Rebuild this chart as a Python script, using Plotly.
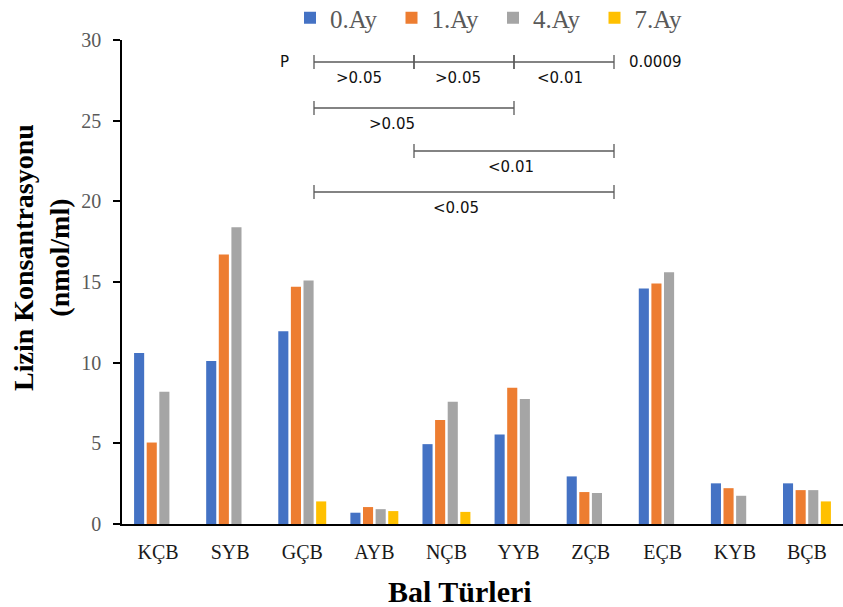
import plotly.graph_objects as go

# Honey types on the x axis
categories = ["KÇB", "SYB", "GÇB", "AYB", "NÇB", "YYB", "ZÇB", "EÇB", "KYB", "BÇB"]

# Lysine concentration (nmol/ml) per storage month
ay0 = [10.6, 10.1, 11.95, 0.7, 4.95, 5.55, 2.95, 14.6, 2.52, 2.52]
ay1 = [5.05, 16.7, 14.7, 1.05, 6.45, 8.45, 1.98, 14.9, 2.22, 2.1]
ay4 = [8.2, 18.4, 15.1, 0.92, 7.58, 7.75, 1.92, 15.6, 1.75, 2.1]
ay7 = [None, None, 1.4, 0.8, 0.75, None, None, None, None, 1.4]

series_names = ["0.Ay", "1.Ay", "4.Ay", "7.Ay"]
series_colors = ["#4472C4", "#ED7D31", "#A5A5A5", "#FFC000"]

# Pairwise comparisons between months: (from index, to index, p label)
comparisons = [
    (0, 1, ">0.05"),
    (1, 2, ">0.05"),
    (2, 3, "<0.01"),
    (0, 2, ">0.05"),
    (1, 3, "<0.01"),
    (0, 3, "<0.05"),
]
overall_p = "0.0009"

W, H = 843, 607
ML, MR, MT, MB = 122, 0, 40, 83
PW, PH = W - ML - MR, H - MT - MB


def px(x):
    return (x - ML) / PW


def py(y):
    return (H - MB - y) / PH


fig = go.Figure()
for name, vals, col in zip(series_names, [ay0, ay1, ay4, ay7], series_colors):
    fig.add_trace(go.Bar(x=categories, y=vals, name=name, marker_color=col,
                         marker_line_width=0))

serif = "Liberation Serif, Times New Roman, serif"
sans = "DejaVu Sans, Verdana, sans-serif"

# Bracket layout: each month sits under its legend entry
month_x = [314 + 100 * i for i in range(4)]
row_of = [0, 0, 0, 1, 2, 3]
row_y = [62, 108, 151, 192]
label_shift = [-5, -6, -4, -22, -3, -8]

shapes = []
annotations = []
line_col = "#5a5a5a"
for (a, b, lab), r, sh in zip(comparisons, row_of, label_shift):
    x0, x1, y = month_x[a], month_x[b], row_y[r]
    shapes.append(dict(type="line", xref="paper", yref="paper",
                       x0=px(x0), x1=px(x1), y0=py(y), y1=py(y),
                       line=dict(color=line_col, width=1.3)))
    for xe in (x0, x1):
        shapes.append(dict(type="line", xref="paper", yref="paper",
                           x0=px(xe), x1=px(xe), y0=py(y - 7), y1=py(y + 7),
                           line=dict(color=line_col, width=1.3)))
    annotations.append(dict(text=lab, xref="paper", yref="paper",
                            x=px((x0 + x1) / 2 + sh), y=py(y + 16),
                            xanchor="center", yanchor="middle", showarrow=False,
                            font=dict(family=sans, size=15, color="#111111")))

annotations.append(dict(text="P", xref="paper", yref="paper", x=px(284), y=py(62),
                        xanchor="center", yanchor="middle", showarrow=False,
                        font=dict(family=sans, size=15, color="#111111")))
annotations.append(dict(text=overall_p, xref="paper", yref="paper", x=px(655), y=py(62),
                        xanchor="center", yanchor="middle", showarrow=False,
                        font=dict(family=sans, size=15, color="#111111")))

# Axis titles
annotations.append(dict(text="<b>Lizin Konsantrasyonu<br>(nmol/ml)</b>", xref="paper", yref="paper",
                        x=px(41), y=py(258), textangle=-90, xanchor="center", yanchor="middle",
                        showarrow=False, font=dict(family=serif, size=28, color="#000000")))
annotations.append(dict(text="<b>Bal Türleri</b>", xref="paper", yref="paper",
                        x=px(460), y=py(591), xanchor="center", yanchor="middle",
                        showarrow=False, font=dict(family=serif, size=30, color="#000000")))

fig.update_layout(
    width=W, height=H,
    margin=dict(l=ML, r=MR, t=MT, b=MB, pad=0, autoexpand=False),
    paper_bgcolor="white", plot_bgcolor="white",
    barmode="group", bargap=0.3, bargroupgap=0.2,
    showlegend=True,
    legend=dict(orientation="h", x=px(290), xanchor="left", y=py(18), yanchor="middle",
                entrywidth=56.5, entrywidthmode="pixels",
                font=dict(family=serif, size=25, color="#595959"),
                bgcolor="rgba(0,0,0,0)", traceorder="normal"),
    shapes=shapes,
    annotations=annotations,
)

fig.update_xaxes(showline=True, linecolor="#000000", linewidth=2, ticks="",
                 showgrid=False, zeroline=False, range=[-0.5, 9.5],
                 tickfont=dict(family=serif, size=20, color="#1a1a1a"),
                 ticklabelstandoff=9)
fig.update_yaxes(range=[0, 30], tickvals=[0, 5, 10, 15, 20, 25, 30],
                 showline=True, linecolor="#000000", linewidth=1.5,
                 ticks="outside", ticklen=7, tickcolor="#000000", tickwidth=1.5,
                 showgrid=False, zeroline=False,
                 tickfont=dict(family=serif, size=20, color="#595959"),
                 ticklabelstandoff=8)

fig.write_html("out.html")
